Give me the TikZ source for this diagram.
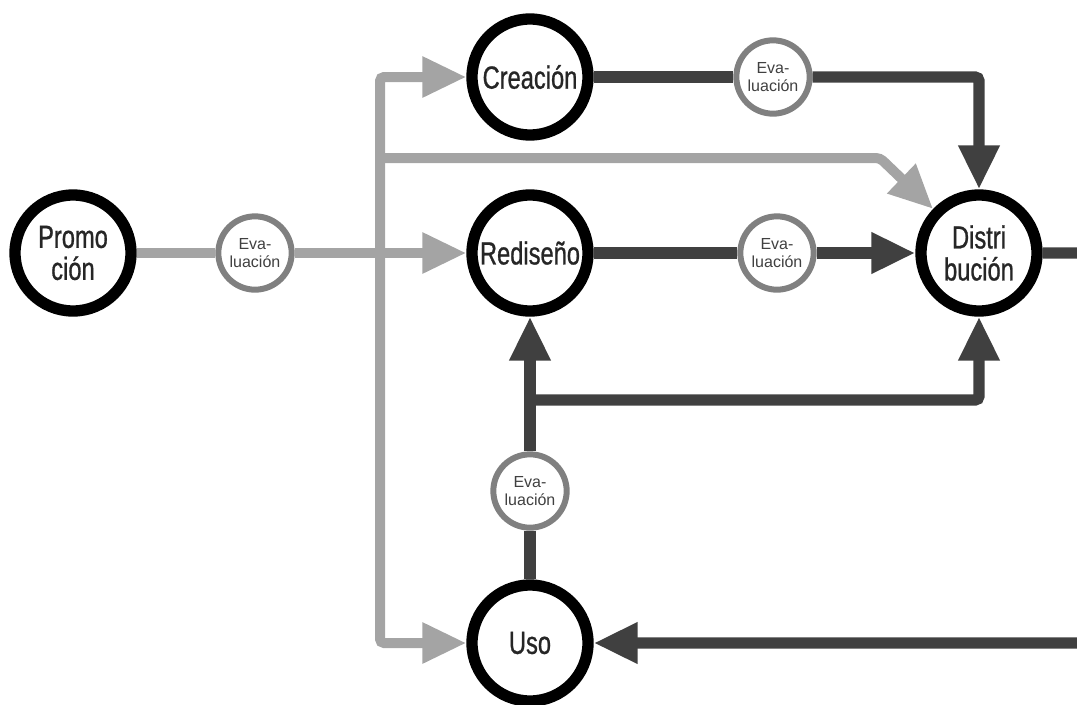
\documentclass[tikz,border=0pt]{standalone}
\usepackage{fontspec}
\setmainfont{Liberation Sans}
\newfontfamily\condfont[FakeStretch=0.74, FakeBold=0.8]{Liberation Sans}
\usetikzlibrary{arrows.meta}
\definecolor{grisclaro}{HTML}{A4A4A4}
\definecolor{grisosc}{HTML}{404040}
\definecolor{grisev}{HTML}{808080}

\begin{document}
\begin{tikzpicture}[
    x=0.75pt, y=-0.75pt,
    etapa/.style = {circle, draw=black, line width=8.5pt, fill=white, minimum size=87pt, inner sep=0pt, align=center, text=black!85, font=\condfont\fontsize{24}{24}\selectfont},
    evalua/.style = {circle, draw=grisev, line width=4.5pt, fill=white, minimum size=55pt, inner sep=0pt, align=center, text=black!75, font=\fontsize{12}{14}\selectfont},
    claro/.style = {grisclaro, line width=7.5pt, rounded corners=3pt},
    oscuro/.style = {grisosc, line width=8.5pt, rounded corners=3pt},
    pil/.style = {-{Triangle[length=33pt,width=29pt]}}
    ]

  \useasboundingbox (0,0) rectangle (1077,704);
  \clip (0,0) rectangle (1077,704);

  \node[etapa] (promo) at (73,253) {Promo\\ción} ;
  \node[evalua] (ev1) at (255,253) {Eva-\\luación} ;
  \node[etapa] (crea) at (530,77) {Creación} ;
  \node[evalua] (ev2) at (773,77) {Eva-\\luación} ;
  \node[etapa] (redis) at (530,253) {Rediseño} ;
  \node[evalua] (ev3) at (777,253) {Eva-\\luación} ;
  \node[etapa] (distrib) at (979,253) {Distri\\bución} ;
  \node[evalua] (ev4) at (530,491) {Eva-\\luación} ;
  \node[etapa] (uso) at (530,643) {Uso} ;

  \coordinate (tronco) at (380,253) ;
  \coordinate (ramal) at (380,158) ;
  \coordinate (codo) at (880,158) ;
  \coordinate (cruce) at (530,400) ;
  \coordinate (fuera) at (1110,253) ;

  % promocion
  \draw[claro] (promo) -- (ev1) ;
  \draw[claro, pil] (ev1) -- (redis) ;
  \draw[claro, pil] (tronco) |- (crea) ;
  \draw[claro, pil] (tronco) |- (uso) ;
  \draw[claro, pil] (ramal) -- (codo) -- (distrib) ;

  % ciclo
  \draw[oscuro] (crea) -- (ev2) ;
  \draw[oscuro, pil] (ev2) -| (distrib) ;
  \draw[oscuro] (redis) -- (ev3) ;
  \draw[oscuro, pil] (ev3) -- (distrib) ;
  \draw[oscuro] (uso) -- (ev4) ;
  \draw[oscuro, pil] (ev4) -- (redis) ;
  \draw[oscuro, pil] (cruce) -| (distrib) ;
  \draw[oscuro, pil] (distrib) -- (fuera) |- (uso) ;
\end{tikzpicture}
\end{document}
